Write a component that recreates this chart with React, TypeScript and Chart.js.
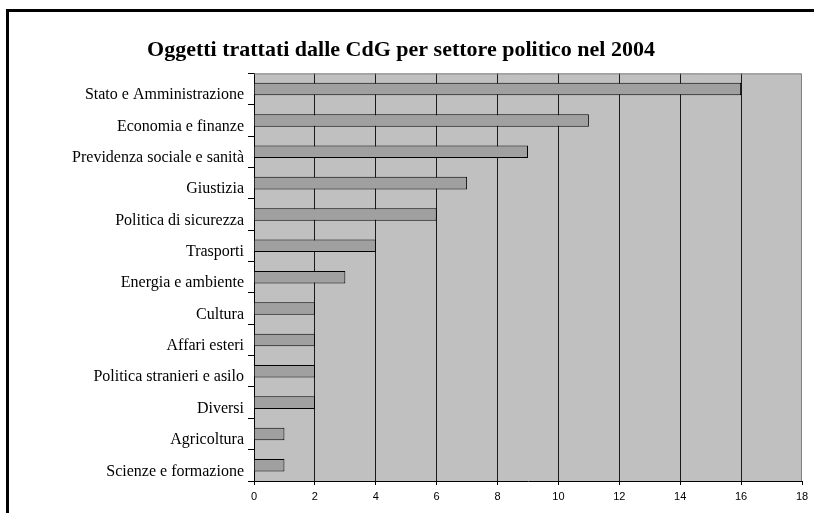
import React, { useEffect, useRef } from "react";
import { Chart, registerables } from "chart.js";

Chart.register(...registerables);

const chartTitle = "Oggetti trattati dalle CdG per settore politico nel 2004";

const sectors = [
  "Stato e Amministrazione",
  "Economia e finanze",
  "Previdenza sociale e sanità",
  "Giustizia",
  "Politica di sicurezza",
  "Trasporti",
  "Energia e ambiente",
  "Cultura",
  "Affari esteri",
  "Politica stranieri e asilo",
  "Diversi",
  "Agricoltura",
  "Scienze e formazione",
];

const objectCounts = [16, 11, 9, 7, 6, 4, 3, 2, 2, 2, 2, 1, 1];

const axisMin = 0;
const axisMax = 18;
const axisStep = 2;

const serif = "'Times New Roman', 'Liberation Serif', serif";
const sans = "Arial, 'Liberation Sans', sans-serif";

// Grey plot background, plot border and the page frame lines
const framePlugin = {
  id: "frame",
  beforeDraw(chart: any) {
    const { ctx, chartArea } = chart;
    const { left, top, right, bottom } = chartArea;
    ctx.save();
    ctx.fillStyle = "#ffffff";
    ctx.fillRect(0, 0, chart.width, chart.height);
    ctx.fillStyle = "#c0c0c0";
    ctx.fillRect(left, top, right - left, bottom - top);
    ctx.fillStyle = "#000000";
    ctx.fillRect(6, 9, chart.width - 6, 3);
    ctx.fillRect(6, 9, 3, chart.height - 9);
    ctx.restore();
  },
  afterDatasetsDraw(chart: any) {
    const { ctx, chartArea } = chart;
    const { left, top, right, bottom } = chartArea;
    ctx.save();
    ctx.strokeStyle = "#808080";
    ctx.lineWidth = 1;
    ctx.beginPath();
    ctx.moveTo(left, top + 0.5);
    ctx.lineTo(right - 0.5, top + 0.5);
    ctx.lineTo(right - 0.5, bottom);
    ctx.stroke();
    ctx.restore();
  },
};

export default function App() {
  const canvasRef = useRef<HTMLCanvasElement | null>(null);

  useEffect(() => {
    if (!canvasRef.current) return;
    const chart = new Chart(canvasRef.current, {
      type: "bar",
      data: {
        labels: sectors,
        datasets: [
          {
            data: objectCounts,
            backgroundColor: "#a0a0a0",
            borderColor: "#000000",
            borderWidth: 1,
            barPercentage: 0.4,
            categoryPercentage: 1,
          },
        ],
      },
      options: {
        indexAxis: "y",
        animation: false,
        responsive: false,
        maintainAspectRatio: false,
        layout: { padding: { left: 0, right: 12, top: 0, bottom: 0 } },
        plugins: {
          legend: { display: false },
          tooltip: { enabled: false },
          title: {
            display: true,
            text: chartTitle,
            color: "#000000",
            font: { family: serif, size: 22, weight: "bold", lineHeight: 1.2 },
            padding: { top: 37, bottom: 10 },
          },
        },
        scales: {
          x: {
            min: axisMin,
            max: axisMax,
            afterFit(scale: any) {
              scale.height = 32;
            },
            ticks: {
              stepSize: axisStep,
              color: "#000000",
              font: { family: sans, size: 11 },
              padding: 5,
            },
            grid: {
              color: (c: any) =>
                c.tick && (c.tick.value === axisMin || c.tick.value === axisMax)
                  ? "rgba(0,0,0,0)"
                  : "#1a1a1a",
              tickColor: "#000000",
              tickLength: 4,
              lineWidth: 1,
            },
            border: { display: true, color: "#000000", width: 1 },
          },
          y: {
            afterFit(scale: any) {
              scale.width = 254;
            },
            ticks: {
              color: "#000000",
              font: { family: serif, size: 16 },
              padding: 4,
              labelOffset: 6,
              autoSkip: false,
            },
            grid: {
              offset: true,
              drawOnChartArea: false,
              drawTicks: true,
              tickLength: 6,
              tickColor: "#000000",
            },
            border: { display: true, color: "#000000", width: 1 },
          },
        },
      },
      plugins: [framePlugin],
    });
    return () => chart.destroy();
  }, []);

  return (
    <div style={{ position: "absolute", left: 0, top: 0, width: 814, height: 513, background: "#fff" }}>
      <canvas ref={canvasRef} width={814} height={513} style={{ display: "block" }} />
    </div>
  );
}
